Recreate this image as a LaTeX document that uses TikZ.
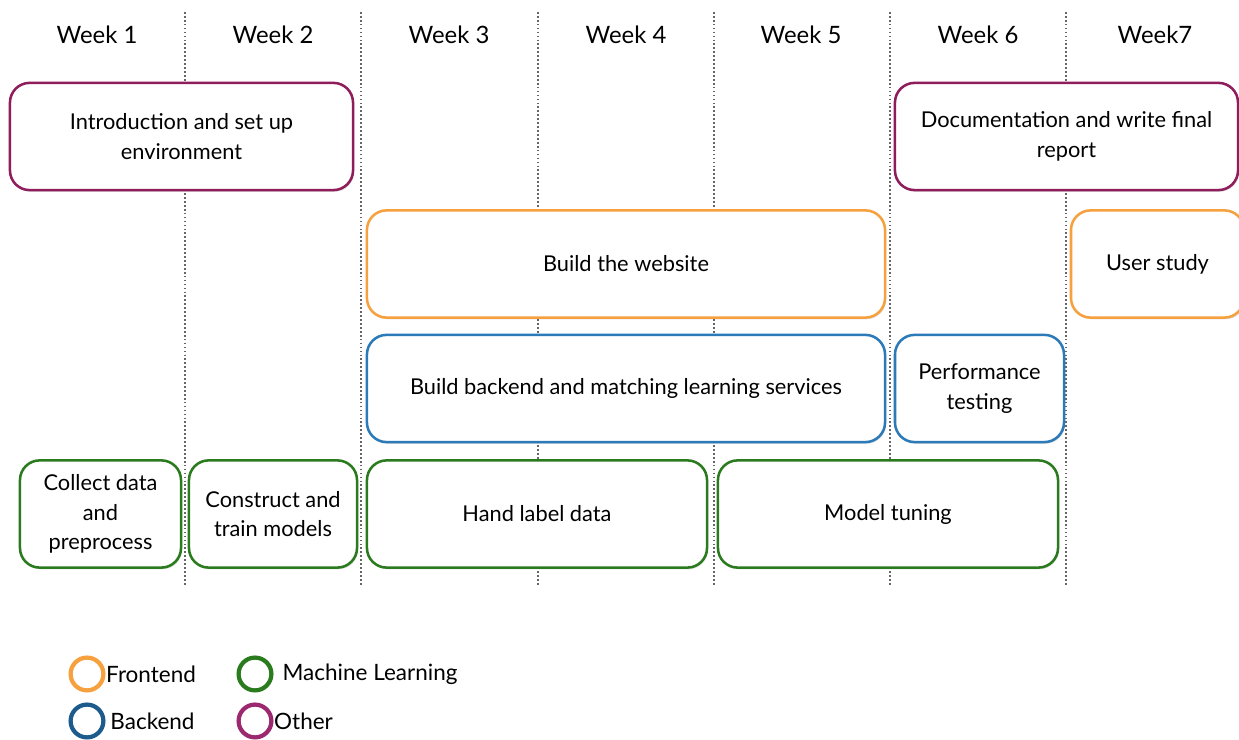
\documentclass[tikz,border=0pt]{standalone}
\usepackage{fontspec}
\setmainfont{Lato}
\usetikzlibrary{shadows,positioning}
\definecolor{frontorange}{HTML}{F6A03E}
\definecolor{backblue}{HTML}{2C7BB8}
\definecolor{backbluedark}{HTML}{1D5B8C}
\definecolor{mlgreen}{HTML}{2A7A1E}
\definecolor{othpurple}{HTML}{8F1D5C}
\definecolor{othpurplelight}{HTML}{9C2870}
\begin{document}
\begin{tikzpicture}[x=0.025cm,y=-0.025cm,inner sep=0pt,outer sep=0pt,
task/.style={draw=#1,rounded corners=14pt,line width=1.8pt,fill=white,align=center,
  font=\fontsize{15.5}{21}\selectfont,minimum height=2.68cm,
  drop shadow={opacity=0.25,shadow xshift=0.8pt,shadow yshift=-1.2pt}},
week/.style={font=\fontsize{17}{20}\selectfont},
divider/.style={gray!80!black,line width=0.9pt,dash pattern=on 1.2pt off 1.6pt},
legcirc/.style={draw=#1,circle,line width=3pt,minimum size=0.82cm},
legtext/.style={font=\fontsize{16}{20}\selectfont,anchor=west}]

\useasboundingbox (0,0) rectangle (1239,740);

% week columns
\foreach \x in {185,361,538,714,890,1066}
  \draw[divider] (\x,12) -- (\x,585);
\draw (97,35) node[week] (w1) {Week 1};
\draw (273,35) node[week] (w2) {Week 2};
\draw (449,35) node[week] (w3) {Week 3};
\draw (626,35) node[week] (w4) {Week 4};
\draw (801,35) node[week] (w5) {Week 5};
\draw (978,35) node[week] (w6) {Week 6};
\draw (1155,35) node[week] (w7) {Week7};

% other
\draw (181.5,136.5) node[task=othpurple,minimum width=8.575cm] (intro) {Introduction and set up\\environment};
\draw (1066.5,136.5) node[task=othpurple,minimum width=8.575cm] (doc) {Documentation and write final\\report};

% frontend
\draw (626,264) node[task=frontorange,minimum width=12.95cm] (web) {Build the website};
\draw (1157.5,264) node[task=frontorange,minimum width=4.325cm] (user) {User study};

% backend
\draw (626,388.5) node[task=backblue,minimum width=12.95cm] (back) {Build backend and matching learning services};
\draw (979.5,388.5) node[task=backblue,minimum width=4.225cm] (perf) {Performance\\testing};

% machine learning
\draw (100.5,514) node[task=mlgreen,minimum width=4.025cm] (collect) {Collect data\\and\\preprocess};
\draw (273,514) node[task=mlgreen,minimum width=4.2cm] (train) {Construct and\\train models};
\draw (537,514) node[task=mlgreen,minimum width=8.5cm] (label) {Hand label data};
\draw (888,514) node[task=mlgreen,minimum width=8.5cm] (tune) {Model tuning};

% legend
\draw (87,674) node[legcirc=frontorange] (cfront) {};
\draw (255,674) node[legcirc=mlgreen] (cml) {};
\draw (87,721) node[legcirc=backbluedark] (cback) {};
\draw (255,721) node[legcirc=othpurplelight] (coth) {};
\node[legtext,right=2pt of cfront] (lfront) {Frontend};
\node[legtext,right=8pt of cml] (lml) {Machine Learning};
\node[legtext,right=5pt of cback] (lback) {Backend};
\node[legtext,right=2pt of coth] (loth) {Other};
\end{tikzpicture}
\end{document}
